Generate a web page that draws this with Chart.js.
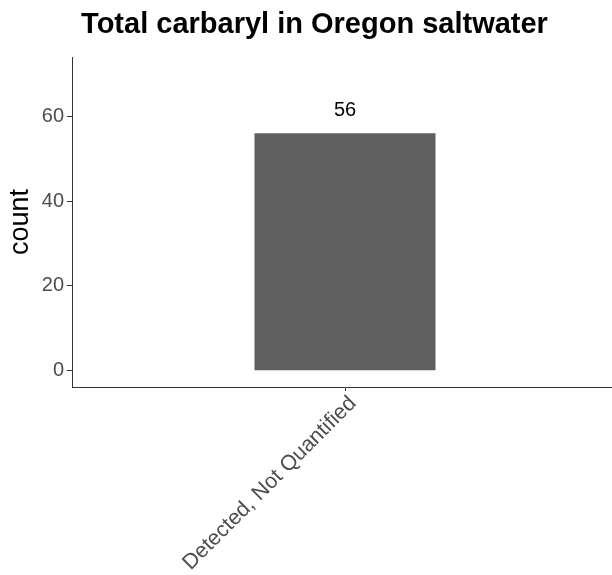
<!DOCTYPE html>
<html>
<head>
<meta charset="utf-8">
<script src="https://cdn.jsdelivr.net/npm/chart.js@4"></script>
<style>
html,body{margin:0;padding:0;overflow:hidden;background:#fff;}
#wrap{width:618px;height:575px;position:relative;}
</style>
</head>
<body>
<div id="wrap"><canvas id="c"></canvas></div>
<script>
const categories = ["Detected, Not Quantified"];
const counts = [56];
const yTicks = [0, 20, 40, 60];
const chartTitle = "Total carbaryl in Oregon saltwater";
const yTitle = "count";

const FONT = "'Liberation Sans', Arial, sans-serif";

const titlePlugin = {
  id: 'ggTitle',
  afterDraw(chart) {
    const ctx = chart.ctx;
    ctx.save();
    ctx.font = "bold 29px " + FONT;
    ctx.fillStyle = "#000";
    ctx.textAlign = "center";
    ctx.textBaseline = "middle";
    ctx.fillText(chartTitle, 314.5, 25);
    ctx.restore();
  }
};

const labelPlugin = {
  id: 'barLabels',
  afterDatasetsDraw(chart) {
    const ctx = chart.ctx;
    const meta = chart.getDatasetMeta(0);
    ctx.save();
    ctx.font = "20px " + FONT;
    ctx.fillStyle = "#000";
    ctx.textAlign = "center";
    ctx.textBaseline = "middle";
    meta.data.forEach((bar, i) => {
      ctx.fillText(String(counts[i]), bar.x, bar.y - 23);
    });
    ctx.restore();
  }
};

new Chart(document.getElementById('c'), {
  type: 'bar',
  data: {
    labels: categories,
    datasets: [{
      data: counts,
      backgroundColor: '#5f5f5f',
      barPercentage: 1,
      categoryPercentage: 0.3315
    }]
  },
  plugins: [titlePlugin, labelPlugin],
  options: {
    responsive: true,
    maintainAspectRatio: false,
    animation: false,
    layout: { padding: { top: 57, left: 0, right: 0, bottom: 0 } },
    plugins: { legend: { display: false }, tooltip: { enabled: false }, title: { display: false } },
    scales: {
      x: {
        grid: { display: true, offset: false, drawOnChartArea: false, drawTicks: true, tickLength: 4, color: '#333', lineWidth: 1 },
        border: { display: true, color: '#333', width: 1 },
        ticks: {
          color: '#4d4d4d', font: { family: FONT, size: 21.5 },
          maxRotation: 45, minRotation: 45, padding: 0, autoSkip: false, labelOffset: 8
        },
        afterFit(scale) { scale.height = 575 - 387; }
      },
      y: {
        min: -3.85, max: 74,
        grid: { display: true, drawOnChartArea: false, drawTicks: true, tickLength: 5, color: '#333', lineWidth: 1 },
        border: { display: true, color: '#333', width: 1 },
        ticks: { color: '#4d4d4d', font: { family: FONT, size: 20 }, padding: 3 },
        afterBuildTicks(scale) { scale.ticks = yTicks.map(v => ({ value: v })); },
        title: { display: true, text: yTitle, color: '#000', font: { family: FONT, size: 27 }, padding: { top: 4, bottom: 0 } },
        afterFit(scale) { scale.width = 72; }
      }
    }
  }
});
</script>
</body>
</html>
